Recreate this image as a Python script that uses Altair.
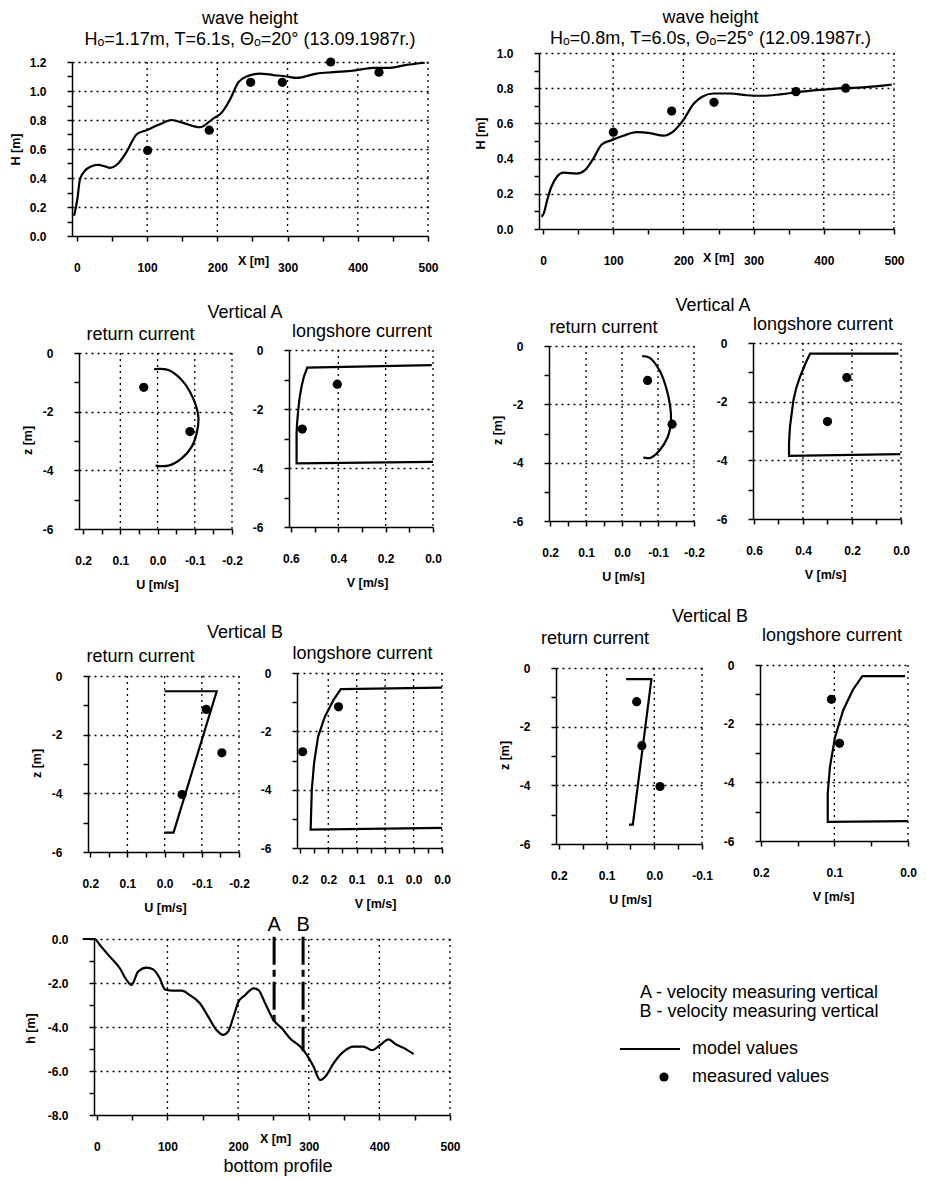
import altair as alt
import pandas as pd

FONT = "Liberation Sans"
BIG = 18

# ---------------- data ----------------
# wave height 13.09.1987 (left)
wl_x = [-4, 0.5, 4.3, 11.4, 20, 30, 40, 47, 58.8, 70.7, 84.9, 99.1, 118, 134.6, 151.3, 175, 194, 206, 217.9, 229.8,
        241.6, 260.6, 279.6, 298.6, 312.8, 341.3, 365, 393.5, 422, 445.6, 469.3, 495.4]
wl_h = [0.14, 0.25, 0.39, 0.45, 0.48, 0.49, 0.48, 0.47, 0.50, 0.58, 0.70, 0.73, 0.77, 0.80, 0.78, 0.75, 0.81, 0.85, 0.94, 1.06,
        1.10, 1.12, 1.11, 1.10, 1.09, 1.12, 1.13, 1.14, 1.16, 1.16, 1.18, 1.195]
wl_mx = [100.7, 188.5, 247.4, 292.5, 361.4, 430.2]
wl_mh = [0.59, 0.73, 1.06, 1.06, 1.20, 1.13]

# wave height 12.09.1987 (right)
wr_x = [-2, 1.2, 6, 12, 20.4, 29, 47.9, 59.8, 71.7, 83.6, 97.9, 114.5, 133.5, 152.5, 171.5, 185.8, 200, 214.3, 226.1, 242.7,
        266.5, 290.2, 313.9, 337.7, 361.4, 394.6, 427.8, 456.3, 496.7]
wr_h = [0.07, 0.09, 0.165, 0.24, 0.30, 0.32, 0.315, 0.335, 0.40, 0.48, 0.505, 0.53, 0.55, 0.545, 0.53, 0.555, 0.62, 0.71, 0.75, 0.77,
        0.77, 0.76, 0.757, 0.765, 0.777, 0.79, 0.80, 0.805, 0.82]
wr_mx = [100.2, 183.3, 243.6, 360.4, 431.2]
wr_mh = [0.55, 0.67, 0.72, 0.78, 0.80]

# Vertical A, left (13.09)
raL_u = [0.009, -0.029, -0.065, -0.087, -0.104, -0.11, -0.105, -0.092, -0.065, -0.029, 0.005]
raL_z = [-0.55, -0.58, -0.92, -1.32, -1.83, -2.23, -2.74, -3.19, -3.59, -3.84, -3.84]
raL_mu = [0.037, -0.087]
raL_mz = [-1.17, -2.68]
laL_v = [0.005, 0.531, 0.545, 0.555, 0.563, 0.569, 0.574, 0.576, 0.576, 0.0]
laL_z = [-0.51, -0.60, -0.90, -1.24, -1.60, -2.03, -2.50, -2.82, -3.84, -3.79]
laL_mv = [0.404, 0.552]
laL_mz = [-1.16, -2.68]

# Vertical A, right (12.09)
raR_u = [-0.056, -0.076, -0.104, -0.122, -0.134, -0.136, -0.127, -0.104, -0.08, -0.059]
raR_z = [-0.35, -0.40, -0.83, -1.40, -2.09, -2.55, -3.12, -3.58, -3.83, -3.83]
raR_mu = [-0.071, -0.139]
raR_mz = [-1.18, -2.68]
laR_v = [0.01, 0.371, 0.39, 0.412, 0.428, 0.439, 0.453, 0.457, 0.457, 0.003]
laR_z = [-0.36, -0.36, -0.70, -1.15, -1.55, -1.95, -2.85, -3.40, -3.85, -3.79]
laR_mv = [0.221, 0.30]
laR_mz = [-1.18, -2.68]

# Vertical B, left
rbL_u = [0.0, -0.14, -0.024, 0.001]
rbL_z = [-0.52, -0.52, -5.34, -5.34]
rbL_mu = [-0.112, -0.154, -0.047]
rbL_mz = [-1.14, -2.62, -4.04]
lbL_v = [0.0, 0.178, 0.191, 0.206, 0.218, 0.225, 0.229, 0.231, 0.0]
lbL_z = [-0.50, -0.55, -0.93, -1.50, -2.19, -3.09, -4.01, -5.37, -5.31]
lbL_mv = [0.182, 0.245]
lbL_mz = [-1.16, -2.70]

# Vertical B, right
rbR_u = [0.059, 0.006, 0.045, 0.053]
rbR_z = [-0.38, -0.38, -5.34, -5.34]
rbR_mu = [0.037, 0.026, -0.012]
rbR_mz = [-1.15, -2.65, -4.04]
lbR_v = [0.004, 0.062, 0.075, 0.088, 0.099, 0.106, 0.109, 0.109, 0.0]
lbR_z = [-0.38, -0.38, -0.85, -1.54, -2.45, -3.47, -4.38, -5.35, -5.32]
lbR_mv = [0.104, 0.093]
lbR_mz = [-1.17, -2.67]

# bottom profile
bp_x = [-20, -3, 4.2, 18.4, 32.6, 42, 49, 58.5, 70.3, 79.8, 89.2, 96.3, 108, 120, 131.7, 145.9, 157.7, 169.5, 178.9, 186,
        193.5, 200.6, 210, 221.8, 228.9, 238.3, 250.1, 261.9, 273.7, 287.9, 297.3, 306.8, 316.2, 323.3, 335.1, 349.3,
        363.4, 377.6, 389.4, 401.2, 413, 422.5, 434.3, 448.5]
bp_h = [0, 0, -0.27, -0.80, -1.33, -1.86, -2.09, -1.48, -1.30, -1.38, -1.79, -2.29, -2.35, -2.35, -2.55, -2.92, -3.53,
        -4.14, -4.36, -4.20, -3.53, -2.85, -2.55, -2.24, -2.32, -2.92, -3.68, -4.06, -4.52, -4.89, -5.27, -5.80, -6.41,
        -6.26, -5.65, -5.12, -4.89, -4.89, -5.05, -4.82, -4.56, -4.77, -4.95, -5.23]
vert_names = ["A", "B"]
vert_x = [251, 292]
vert_top = [0.1, 0.1]
vert_bottom = [-3.8, -5.1]
vert_label_h = [0.65, 0.65]

legend_labels = ["model values", "measured values"]

# tick values
wave_x_ticks = [0, 50, 100, 150, 200, 250, 300, 350, 400, 450, 500]
wl_y_ticks = [0, 0.1, 0.2, 0.3, 0.4, 0.5, 0.6, 0.7, 0.8, 0.9, 1.0, 1.1, 1.2]
wr_y_ticks = [0, 0.1, 0.2, 0.3, 0.4, 0.5, 0.6, 0.7, 0.8, 0.9, 1.0]
z_ticks = [0, -1, -2, -3, -4, -5, -6]
u_ticks = [0.2, 0.15, 0.1, 0.05, 0.0, -0.05, -0.1, -0.15, -0.2]
vA_ticks = [0.6, 0.5, 0.4, 0.3, 0.2, 0.1, 0.0]
vBL_ticks = [0.25, 0.225, 0.2, 0.175, 0.15, 0.125, 0.1, 0.075, 0.05, 0.025, 0.0]
uBR_ticks = [0.2, 0.15, 0.1, 0.05, 0.0, -0.05, -0.1]
vBR_ticks = [0.2, 0.15, 0.1, 0.05, 0.0]
bp_x_ticks = [0, 50, 100, 150, 200, 250, 300, 350, 400, 450, 500]
bp_y_ticks = [0, -1, -2, -3, -4, -5, -6, -7, -8]

# vertical grid-line positions
wave_x_grid = [100, 200, 300, 400, 500]
u_grid = [0.1, 0.0, -0.1, -0.2]
vA_grid = [0.4, 0.2, 0.0]
vBL_grid = [0.2, 0.15, 0.1, 0.05, 0.0]
uBR_grid = [0.1, 0.0, -0.1]
vBR_grid = [0.1, 0.0]
bp_x_grid = [100, 200, 300, 400, 500]

# ---------------- helpers ----------------
MINUS = "\u2212"


def fmt_expr(test, fmt):
    return f"({test}) ? replace(format(datum.value, '{fmt}'), '{MINUS}', '-') : ''"


def make_axis(title, values, label_test, grid_test, fmt, title_x=None, title_y=None, lexpr=None):
    kw = dict(title=title, values=values, tickCount=100, labelOverlap=False, labelFlush=False,
              labelExpr=lexpr if lexpr else fmt_expr(label_test, fmt))
    if grid_test is None:
        kw["grid"] = False
    else:
        kw["gridOpacity"] = {"condition": {"test": grid_test, "value": 1}, "value": 0}
    if title_x is not None:
        kw["titleX"] = title_x
    if title_y is not None:
        kw["titleY"] = title_y
    return alt.Axis(**kw)


def ldf(xs, ys):
    return pd.DataFrame({"x": xs, "y": ys, "i": list(range(len(xs)))})


def pdf(xs, ys):
    return pd.DataFrame({"x": xs, "y": ys})


def ttl(text, row_top, bottom, dx=0, lh=21):
    """title whose (last line) text bottom sits at page y = bottom"""
    return alt.TitleParams(text=text, offset=0, dy=bottom - row_top, dx=dx, frame="group", anchor="middle",
                           font=FONT, fontSize=BIG, fontWeight="normal", lineHeight=lh)


def panel(line_data, pts_data, xdom, ydom, xaxis, yaxis, box, row_top, title, xgrid, interp="linear", extra=()):
    left, top, w, h = box
    vh = top + h - row_top
    X = alt.X("x:Q", scale=alt.Scale(domain=xdom, nice=False, zero=False), axis=xaxis)
    Y = alt.Y("y:Q", scale=alt.Scale(domain=ydom, range=[vh, top - row_top], nice=False, zero=False), axis=yaxis)
    gdf = pd.DataFrame({"x": xgrid, "y": [ydom[1]] * len(xgrid), "y2": [ydom[0]] * len(xgrid)})
    layers = [
        alt.Chart(line_data).mark_line(color="black", strokeWidth=2.2, interpolate=interp)
        .encode(x=X, y=Y, order="i:Q"),
        alt.Chart(gdf).mark_rule(color="black", strokeWidth=1.3, strokeDash=[2, 4])
        .encode(x="x:Q", y="y:Q", y2="y2:Q"),
    ]
    if pts_data is not None:
        layers.append(alt.Chart(pts_data).mark_circle(size=85, color="black", opacity=1)
                      .encode(x="x:Q", y="y:Q"))
    layers += list(extra)
    return alt.layer(*layers).properties(width=w, height=vh, title=title)


X100 = "datum.value % 100 === 0"
Y02 = "abs(round(datum.value*10)) % 2 === 0"
Z2 = "datum.value % 2 === 0"
Z2G = "datum.value % 2 === 0 && datum.value > -5.5"
U01 = "abs(round(datum.value*20)) % 2 === 0"


def z_axis(title, row_top=None, cy=None):
    if title:
        return make_axis(title, z_ticks, Z2, Z2G, "d", -52, cy - row_top)
    return make_axis("", z_ticks, Z2, Z2G, "d")


def u_axis(values, tx):
    return make_axis("U [m/s]", values, U01, None, ".1f", tx, 55)


def vA_axis(tx):
    return make_axis("V [m/s]", vA_ticks, Y02, None, ".1f", tx, 55)


# row tops (page px)
T1, T2, T3, T4, TEND = 8, 285, 600, 914, 1180

# panel boxes (left, top, width, height) in page px
B1 = (72, 62, 356, 174)
B2 = (539, 53, 355, 176)
B3 = (79, 353, 153, 176)
B4 = (289, 350, 144, 177)
B5 = (549, 346, 145, 175)
B6 = (753, 343, 148, 176)
B7 = (88, 676, 151, 176)
B8 = (297, 673, 145, 175)
B9 = (556, 668, 146, 176)
B10 = (760, 665, 148, 176)
B11 = (94, 939, 356, 176)
BL = (620, 914, 284, 170)

# ---------------- panels ----------------
P1 = panel(ldf(wl_x, wl_h), pdf(wl_mx, wl_mh), [-7, 500], [0, 1.2],
           make_axis("X [m]", wave_x_ticks, X100, None, "d", 181, 24),
           make_axis("H [m]", wl_y_ticks, Y02, Y02 + " && datum.value > 0.01", ".1f", -57, 149 - T1),
           B1, T1,
           ttl(["wave height", "H\u2092=1.17m, T=6.1s, \u0398\u2092=20\u00b0 (13.09.1987r.)"], T1, 49),
           wave_x_grid, interp="monotone")
P2 = panel(ldf(wr_x, wr_h), pdf(wr_mx, wr_mh), [-5.7, 500], [0, 1.0],
           make_axis("X [m]", wave_x_ticks, X100, None, "d", 179, 28),
           make_axis("H [m]", wr_y_ticks, Y02, Y02 + " && datum.value > 0.01", ".1f", -59, 133 - T1),
           B2, T1,
           ttl(["wave height", "H\u2092=0.8m, T=6.0s, \u0398\u2092=25\u00b0 (12.09.1987r.)"], T1, 48, -6),
           wave_x_grid, interp="monotone")

P3 = panel(ldf(raL_u, raL_z), pdf(raL_mu, raL_mz), [0.211, -0.2], [-6, 0],
           u_axis(u_ticks, 78), z_axis("z [m]", T2, 440), B3, T2,
           ttl("return current", T2, 343.5, -15), u_grid, interp="catmull-rom")
P4 = panel(ldf(laL_v, laL_z), pdf(laL_mv, laL_mz), [0.608, 0], [-6, 0],
           vA_axis(78), z_axis(""), B4, T2,
           ttl("longshore current", T2, 340.5, 1), vA_grid)
P5 = panel(ldf(raR_u, raR_z), pdf(raR_mu, raR_mz), [0.203, -0.2], [-6, 0],
           u_axis(u_ticks, 74), z_axis("z [m]", T2, 430), B5, T2,
           ttl("return current", T2, 336.5, -18), u_grid, interp="catmull-rom")
P6 = panel(ldf(laR_v, laR_z), pdf(laR_mv, laR_mz), [0.604, 0], [-6, 0],
           vA_axis(72), z_axis(""), B6, T2,
           ttl("longshore current", T2, 333.5, -4), vA_grid)

P7 = panel(ldf(rbL_u, rbL_z), pdf(rbL_mu, rbL_mz), [0.206, -0.2], [-6, 0],
           u_axis(u_ticks, 77), z_axis("z [m]", T3, 763), B7, T3,
           ttl("return current", T3, 665.5, -23), u_grid)
P8 = panel(ldf(lbL_v, lbL_z), pdf(lbL_mv, lbL_mz), [0.255, 0], [-6, 0],
           make_axis("V [m/s]", vBL_ticks, "abs(round(datum.value*40)) % 2 === 0", None, ".1f", 78, 55,
                     lexpr="(abs(round(datum.value*40)) % 2 === 0) ? format(floor(datum.value*10 + 0.000001)/10, '.1f') : ''"),
           z_axis(""), B8, T3,
           ttl("longshore current", T3, 662.5, -7), vBL_grid)
P9 = panel(ldf(rbR_u, rbR_z), pdf(rbR_mu, rbR_mz), [0.206, -0.1], [-6, 0],
           u_axis(uBR_ticks, 74), z_axis("z [m]", T3, 755), B9, T3,
           ttl("return current", T3, 647.5, -34), uBR_grid)
P10 = panel(ldf(lbR_v, lbR_z), pdf(lbR_mv, lbR_mz), [0.201, 0], [-6, 0],
            make_axis("V [m/s]", vBR_ticks, U01, None, ".1f", 73, 55),
            z_axis(""), B10, T3,
            ttl("longshore current", T3, 644.5, -2), vBR_grid)

vert_df = pd.DataFrame({"name": vert_names, "x": vert_x, "y": vert_top, "y2": vert_bottom, "ly": vert_label_h})
vert_rules = alt.Chart(vert_df).mark_rule(color="black", strokeWidth=3, strokeDash=[28, 5, 7, 5]).encode(
    x="x:Q", y="y:Q", y2="y2:Q")
vert_text = alt.Chart(vert_df).mark_text(font=FONT, fontSize=20, color="black", baseline="middle").encode(
    x="x:Q", y="ly:Q", text="name:N")
P11 = panel(ldf(bp_x, bp_h), None, [-4, 500], [-8, 0],
            make_axis("X [m]", bp_x_ticks, X100, None, "d", 181, 23),
            make_axis("h [m]", bp_y_ticks, Z2, "datum.value % 2 === 0 && datum.value > -7.5", ".1f", -64, 1028 - T4),
            B11, T4,
            ttl("bottom profile", T4, 1175.5, 6), bp_x_grid,
            interp="monotone", extra=[vert_rules, vert_text])

# legend panel
leg_df = pd.DataFrame({"label": legend_labels, "row": [0, 1]})
LY = alt.Y("row:O", axis=None, scale=alt.Scale(type="point", range=[1049 - T4, 1077 - T4], padding=0))
leg_base = alt.Chart(leg_df)
LEG = alt.layer(
    leg_base.mark_rule(color="black", strokeWidth=2).encode(
        x=alt.value(0), x2=alt.value(60), y=LY).transform_filter(alt.datum.row == 0),
    leg_base.mark_circle(size=85, color="black", opacity=1).encode(
        x=alt.value(44), y=LY).transform_filter(alt.datum.row == 1),
    leg_base.mark_text(font=FONT, fontSize=BIG, align="left", baseline="middle", color="black").encode(
        x=alt.value(72), y=LY, text="label:N"),
).properties(width=BL[2], height=BL[3],
             title=ttl(["A - velocity measuring vertical", "B - velocity measuring vertical"], T4, 1021, -3, 19))


# ---------------- layout ----------------
def spacer(w, h=1, title=None):
    ch = alt.Chart(pd.DataFrame({"v": [0]})).mark_point(opacity=0, size=0).properties(width=max(1, w), height=h)
    if title is not None:
        ch = ch.properties(title=title)
    return ch


def row(items, row_top, row_bottom):
    out = []
    x = 8
    first = True
    for ch, left, w, stitle in items:
        if left > x:
            sw = left - x
            out.append(spacer(sw, row_bottom - row_top if first else 1, stitle))
            x += max(1, sw)
        first = False
        out.append(ch)
        x += w
    return alt.hconcat(*out, spacing=0).properties(bounds="flush")


R1 = row([(P1, B1[0], B1[2], None), (P2, B2[0], B2[2], None)], T1, T2)
R2 = row([(P3, B3[0], B3[2], None),
          (P4, B4[0], B4[2], ttl("Vertical A", T2, 321.5, 245 - (B3[0] + B3[2] + B4[0]) / 2)),
          (P5, B5[0], B5[2], None),
          (P6, B6[0], B6[2], ttl("Vertical A", T2, 314.5, 713 - (B5[0] + B5[2] + B6[0]) / 2))], T2, T3)
R3 = row([(P7, B7[0], B7[2], None),
          (P8, B8[0], B8[2], ttl("Vertical B", T3, 641.5, 245 - (B7[0] + B7[2] + B8[0]) / 2)),
          (P9, B9[0], B9[2], None),
          (P10, B10[0], B10[2], ttl("Vertical B", T3, 625.5, 710 - (B9[0] + B9[2] + B10[0]) / 2))], T3, T4)
R4 = row([(P11, B11[0], B11[2], None), (LEG, BL[0], BL[2], None)], T4, TEND)

chart = alt.vconcat(R1, R2, R3, R4, spacing=0).properties(padding=0).configure_view(stroke=None).configure_axis(
    domainColor="black", domainWidth=1.5, tickColor="black", tickWidth=1.5, tickSize=5,
    labelFont=FONT, labelFontSize=12, labelFontWeight="bold", labelColor="black", labelPadding=21,
    labelFlush=False, labelOverlap=False,
    titleFont=FONT, titleFontSize=12.5, titleFontWeight="bold", titleColor="black", titleBaseline="middle",
    titleAlign="center",
    grid=True, gridColor="black", gridDash=[2, 4], gridWidth=1.3
).configure_title(font=FONT, fontSize=BIG, fontWeight="normal", color="black")

chart.save("out.html", embed_options={"renderer": "svg", "actions": False})
